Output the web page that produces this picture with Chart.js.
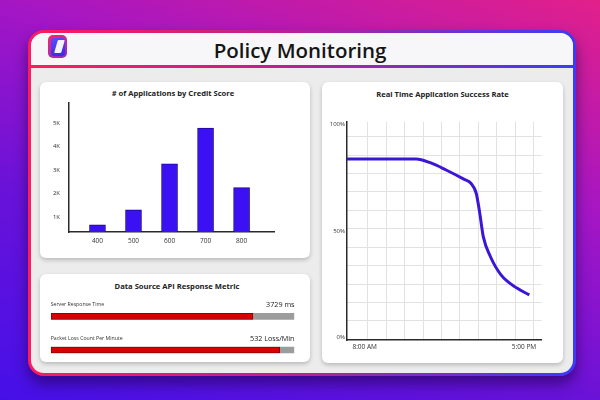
<!DOCTYPE html>
<html>
<head>
<meta charset="utf-8">
<script src="https://cdn.jsdelivr.net/npm/chart.js@4.4.0/dist/chart.umd.min.js"></script>
<style>
  html, body { margin: 0; padding: 0; }
  body {
    width: 600px; height: 400px; position: relative; overflow: hidden;
    font-family: "Open Sans", "DejaVu Sans", sans-serif;
    background: linear-gradient(200deg, #e2208a 0%, #a516c4 35%, #6a12d8 65%, #4510e8 100%);
  }
  .abs { position: absolute; }
  #frame {
    left: 28px; top: 30px; width: 548px; height: 346px; border-radius: 16px;
    background: linear-gradient(90deg, #ff1b5c 0%, #c0208f 45%, #3a3cf8 100%);
    box-shadow: 0 8px 14px rgba(25, 0, 70, 0.55);
  }
  #inner {
    left: 3px; top: 3px; right: 3px; bottom: 3px; border-radius: 13px;
    background: #ececec; overflow: hidden;
  }
  #header { left: 0; top: 0; right: 0; height: 32px; background: #f7f7f9; }
  #divider { left: 0; top: 32px; right: 0; height: 3px;
    background: linear-gradient(90deg, #ff1b5c 0%, #c0208f 45%, #3a3cf8 100%); }
  #title { left: 0; top: 36px; width: 600px; text-align: center; font-size: 20.5px;
    font-weight: 600; color: #151515; line-height: 28px; }
  #logo { left: 48px; top: 35px; width: 19px; height: 23px; border-radius: 5px;
    background: linear-gradient(150deg, #ff2262, #b62aa8 60%, #8a2cc8); }
  #logoIn { left: 2.5px; top: 2.5px; width: 14px; height: 18px; border-radius: 3px;
    background: linear-gradient(160deg, #5b4cff, #3a28e0); }
  #logoMark { left: 5px; top: 2.5px; width: 6.5px; height: 13px; transform: skewX(-16deg);
    background: #f4f2ff; border-radius: 1px; }
  .card { background: #fff; border-radius: 6px; box-shadow: 0 2px 4px rgba(0,0,0,0.22); }
  .ctitle { font-weight: 700; color: #222; font-size: 7.6px; text-align: center; line-height: 10px; }
  .mname { font-size: 5.2px; color: #333; line-height: 8px; white-space: nowrap; }
  .mval { font-size: 7.2px; color: #222; line-height: 10px; text-align: right; white-space: nowrap; }
</style>
</head>
<body>
<div id="frame" class="abs">
  <div id="inner" class="abs">
    <div id="header" class="abs"></div>
    <div id="divider" class="abs"></div>
  </div>
</div>
<div id="logo" class="abs"><div id="logoIn" class="abs"><div id="logoMark" class="abs"></div></div></div>
<div id="title" class="abs">Policy Monitoring</div>

<div class="abs card" style="left:40px;top:82px;width:270px;height:176px"></div>
<div class="abs card" style="left:40px;top:274px;width:270px;height:88px"></div>
<div class="abs card" style="left:322px;top:82px;width:241px;height:281px"></div>

<div class="abs ctitle" style="left:40px;top:88px;width:266px">
# of Applications by Credit Score</div>
<div class="abs ctitle" style="left:40px;top:281px;width:274px">
Data Source API Response Metric</div>
<div class="abs ctitle" style="left:322px;top:89px;width:241px">
Real Time Application Success Rate</div>

<div class="abs" style="left:40px;top:82px;width:270px;height:176px"><canvas id="barChart"></canvas></div>
<div class="abs" style="left:322px;top:82px;width:241px;height:281px"><canvas id="lineChart"></canvas></div>
<div class="abs" style="left:40px;top:274px;width:270px;height:100px"><canvas id="metricChart"></canvas></div>

<script>
// credit score histogram
const creditScores = [400, 500, 600, 700, 800];
const applications = [670, 1310, 3270, 4790, 2260];
const appTickValues = [1000, 2000, 3000, 4000, 5000];
const appTickLabels = ['1K', '2K', '3K', '4K', '5K'];

// success rate over the day (hours, %)
const successHours = [7.0, 10.9, 11.7, 12.6, 13.6, 14.0, 14.3, 14.5, 14.7, 15.1, 15.7, 16.6, 17.3];
const successRate = [83.6, 83.6, 81.9, 78.5, 74.2, 72.3, 67.6, 58.3, 47.3, 38.0, 29.4, 23.2, 20.0];
const timeTickValues = [8, 17];
const timeTickLabels = ['8:00 AM', '5:00 PM'];
const rateTickValues = [0, 50, 100];
const rateTickLabels = ['0%', '50%', '100%'];

// API metrics
const metricNames = ['Server Response Time', 'Packet Loss Count Per Minute'];
const metricReadouts = ['3729 ms', '532 Loss/Min'];
const metricLevels = [83, 94];
const metricMax = [100, 100];

Chart.defaults.font.family = '"Open Sans", "DejaVu Sans", sans-serif';
Chart.defaults.color = '#333';
Chart.defaults.animation = false;
Chart.defaults.plugins.legend.display = false;
Chart.defaults.plugins.tooltip.enabled = false;

const axisLine = { display: true, color: '#2a2a2a', width: 1.5 };
const noGrid = { display: false, drawTicks: false };

// Bar chart
new Chart(document.getElementById('barChart'), {
  type: 'bar',
  data: {
    datasets: [{
      data: creditScores.map((s, i) => ({ x: s, y: applications[i] })),
      backgroundColor: '#3b10f2',
      borderColor: '#1c0a8c',
      borderWidth: 1,
      barThickness: 16,
      clip: 0
    }]
  },
  options: {
    responsive: true,
    maintainAspectRatio: false,
    layout: { padding: { top: 21, right: 36, left: 0, bottom: 0 } },
    scales: {
      x: {
        type: 'linear', min: 319, max: 890, offset: false,
        grid: noGrid,
        border: axisLine,
        afterBuildTicks: s => { s.ticks = creditScores.map(v => ({ value: v })); },
        afterFit: s => { s.height = 26; },
        ticks: { font: { size: 6.5 }, padding: 5, callback: v => String(v) }
      },
      y: {
        min: 370, max: 5860,
        grid: noGrid,
        border: axisLine,
        afterBuildTicks: s => { s.ticks = appTickValues.map(v => ({ value: v })); },
        afterFit: s => { s.width = 28.3; },
        ticks: { font: { size: 6 }, padding: 8.3, callback: (v, i) => appTickLabels[i] }
      }
    }
  }
});

// Line chart
const gridX = [];
for (let i = 0; i < 10; i++) gridX.push(8.17 + i * 1.042);
const gridY = [];
for (let i = 0; i < 11; i++) gridY.push(7.8 + i * 8.63);

new Chart(document.getElementById('lineChart'), {
  type: 'line',
  data: {
    datasets: [{
      data: successHours.map((h, i) => ({ x: h, y: successRate[i] })),
      borderColor: '#3b16d6',
      borderWidth: 3,
      pointRadius: 0,
      fill: false,
      cubicInterpolationMode: 'monotone'
    }]
  },
  options: {
    responsive: true,
    maintainAspectRatio: false,
    layout: { padding: { top: 39.7, right: 21.3, left: 0, bottom: 0 } },
    scales: {
      x: {
        type: 'linear', min: 7, max: 18,
        grid: noGrid,
        border: axisLine,
        afterBuildTicks: s => { s.ticks = timeTickValues.map(v => ({ value: v })); },
        afterFit: s => { s.height = 23; },
        ticks: { font: { size: 6.5 }, padding: 3, callback: (v, i) => timeTickLabels[i] }
      },
      y: {
        min: -1.1, max: 101.1,
        grid: noGrid,
        border: axisLine,
        afterBuildTicks: s => { s.ticks = rateTickValues.map(v => ({ value: v })); },
        afterFit: s => { s.width = 25; },
        ticks: { font: { size: 6 }, padding: 2, callback: (v, i) => rateTickLabels[i] }
      },
      gx: {
        type: 'linear', position: 'bottom', min: 7, max: 18,
        grid: { color: '#e2e2e2', lineWidth: 1, drawTicks: false },
        border: { display: false },
        ticks: { display: false },
        afterBuildTicks: s => { s.ticks = gridX.map(v => ({ value: v })); },
        afterFit: s => { s.height = 0; }
      },
      gy: {
        type: 'linear', position: 'left', min: -1.1, max: 101.1,
        grid: { color: '#e2e2e2', lineWidth: 1, drawTicks: false },
        border: { display: false },
        ticks: { display: false },
        afterBuildTicks: s => { s.ticks = gridY.map(v => ({ value: v })); },
        afterFit: s => { s.width = 0; }
      }
    }
  }
});

// Progress bars
new Chart(document.getElementById('metricChart'), {
  type: 'bar',
  data: {
    labels: metricNames,
    datasets: [{
      data: metricLevels,
      backgroundColor: '#d80000',
      borderColor: '#800000',
      borderWidth: 0.8,
      borderSkipped: false,
      barThickness: 6,
      grouped: false,
      order: 1
    }, {
      data: metricMax,
      backgroundColor: '#9c9c9c',
      barThickness: 6,
      grouped: false,
      order: 2
    }]
  },
  options: {
    indexAxis: 'y',
    responsive: true,
    maintainAspectRatio: false,
    layout: { padding: { top: 25.5, right: 15.7, left: 11, bottom: 7.2 } },
    scales: {
      x: { display: false, min: 0, max: 100 },
      y: { display: false }
    }
  }
});

const rowTop = [300, 334];
metricNames.forEach((name, i) => {
  const n = document.createElement('div');
  n.className = 'abs mname';
  n.style.left = '50.7px';
  n.style.top = rowTop[i] + 'px';
  n.textContent = name;
  document.body.appendChild(n);
  const v = document.createElement('div');
  v.className = 'abs mval';
  v.style.left = '194px';
  v.style.width = '100.5px';
  v.style.top = (rowTop[i] - 1.5) + 'px';
  v.textContent = metricReadouts[i];
  document.body.appendChild(v);
});
</script>
</body>
</html>
